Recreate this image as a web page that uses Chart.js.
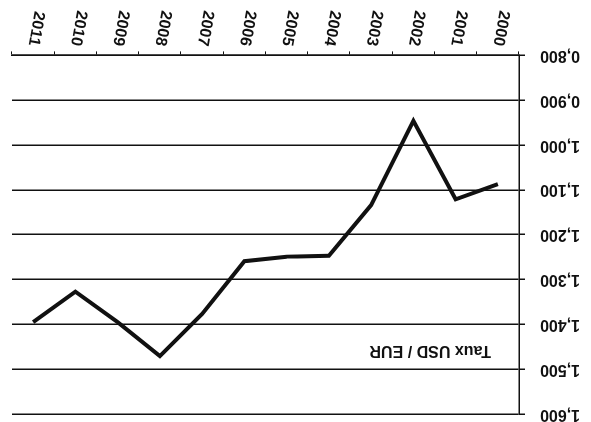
<!DOCTYPE html>
<html>
<head>
<meta charset="utf-8">
<script src="https://cdn.jsdelivr.net/npm/chart.js@4.4.0/dist/chart.umd.min.js"></script>
<style>
html,body{margin:0;padding:0;background:#fff;}
#wrap{width:591px;height:422px;transform:rotate(180deg);}
</style>
</head>
<body>
<div id="wrap"><canvas id="chart" width="591" height="422"></canvas></div>
<script>
const years=["2000","2001","2002","2003","2004","2005","2006","2007","2008","2009","2010","2011"];
const rates=[1.087,1.121,0.946,1.134,1.247,1.249,1.259,1.377,1.471,1.395,1.327,1.395];
const seriesName="Taux USD / EUR";

const fontFam="'Liberation Sans', Arial, sans-serif";

// label drawn inside the plot area, like the original
const inlineLabel={
  id:"inlineLabel",
  afterDraw(chart){
    const {ctx,chartArea}=chart;
    ctx.save();
    ctx.font="bold 16px "+fontFam;
    ctx.fillStyle="#111";
    ctx.textBaseline="middle";
    ctx.textAlign="left";
    ctx.fillText(seriesName,chartArea.left+28,chartArea.top+64);
    ctx.restore();
  }
};

const ctx=document.getElementById("chart").getContext("2d");
new Chart(ctx,{
  type:"line",
  data:{
    labels:years,
    datasets:[{
      label:seriesName,
      data:rates,
      borderColor:"#111",
      borderWidth:4,
      borderJoinStyle:"miter",
      pointRadius:0,
      tension:0,
      fill:false
    }]
  },
  options:{
    responsive:false,
    animation:false,
    layout:{padding:{left:0,right:12,top:0,bottom:5}},
    plugins:{legend:{display:false},tooltip:{enabled:false}},
    scales:{
      x:{
        offset:true,
        grid:{display:true,drawOnChartArea:false,drawTicks:true,tickLength:4,offset:true,color:"#111",lineWidth:1},
        border:{display:true,color:"#111",width:1.5},
        ticks:{
          color:"#111",
          font:{family:fontFam,size:16,weight:"bold"},
          minRotation:80,maxRotation:80,
          padding:4,
          autoSkip:false
        }
      },
      y:{
        min:0.8,max:1.6,
        grid:{color:"#111",lineWidth:1.5,tickLength:6},
        border:{display:true,color:"#111",width:1.5},
        afterFit(scale){scale.width=72;scale.paddingTop=8;scale.paddingBottom=0;},
        ticks:{
          stepSize:0.1,
          color:"#111",
          padding:15,
          font:{family:fontFam,size:16,weight:"bold"},
          callback:v=>Number(v).toFixed(3).replace(".",",")
        }
      }
    }
  },
  plugins:[inlineLabel]
});
</script>
</body>
</html>
